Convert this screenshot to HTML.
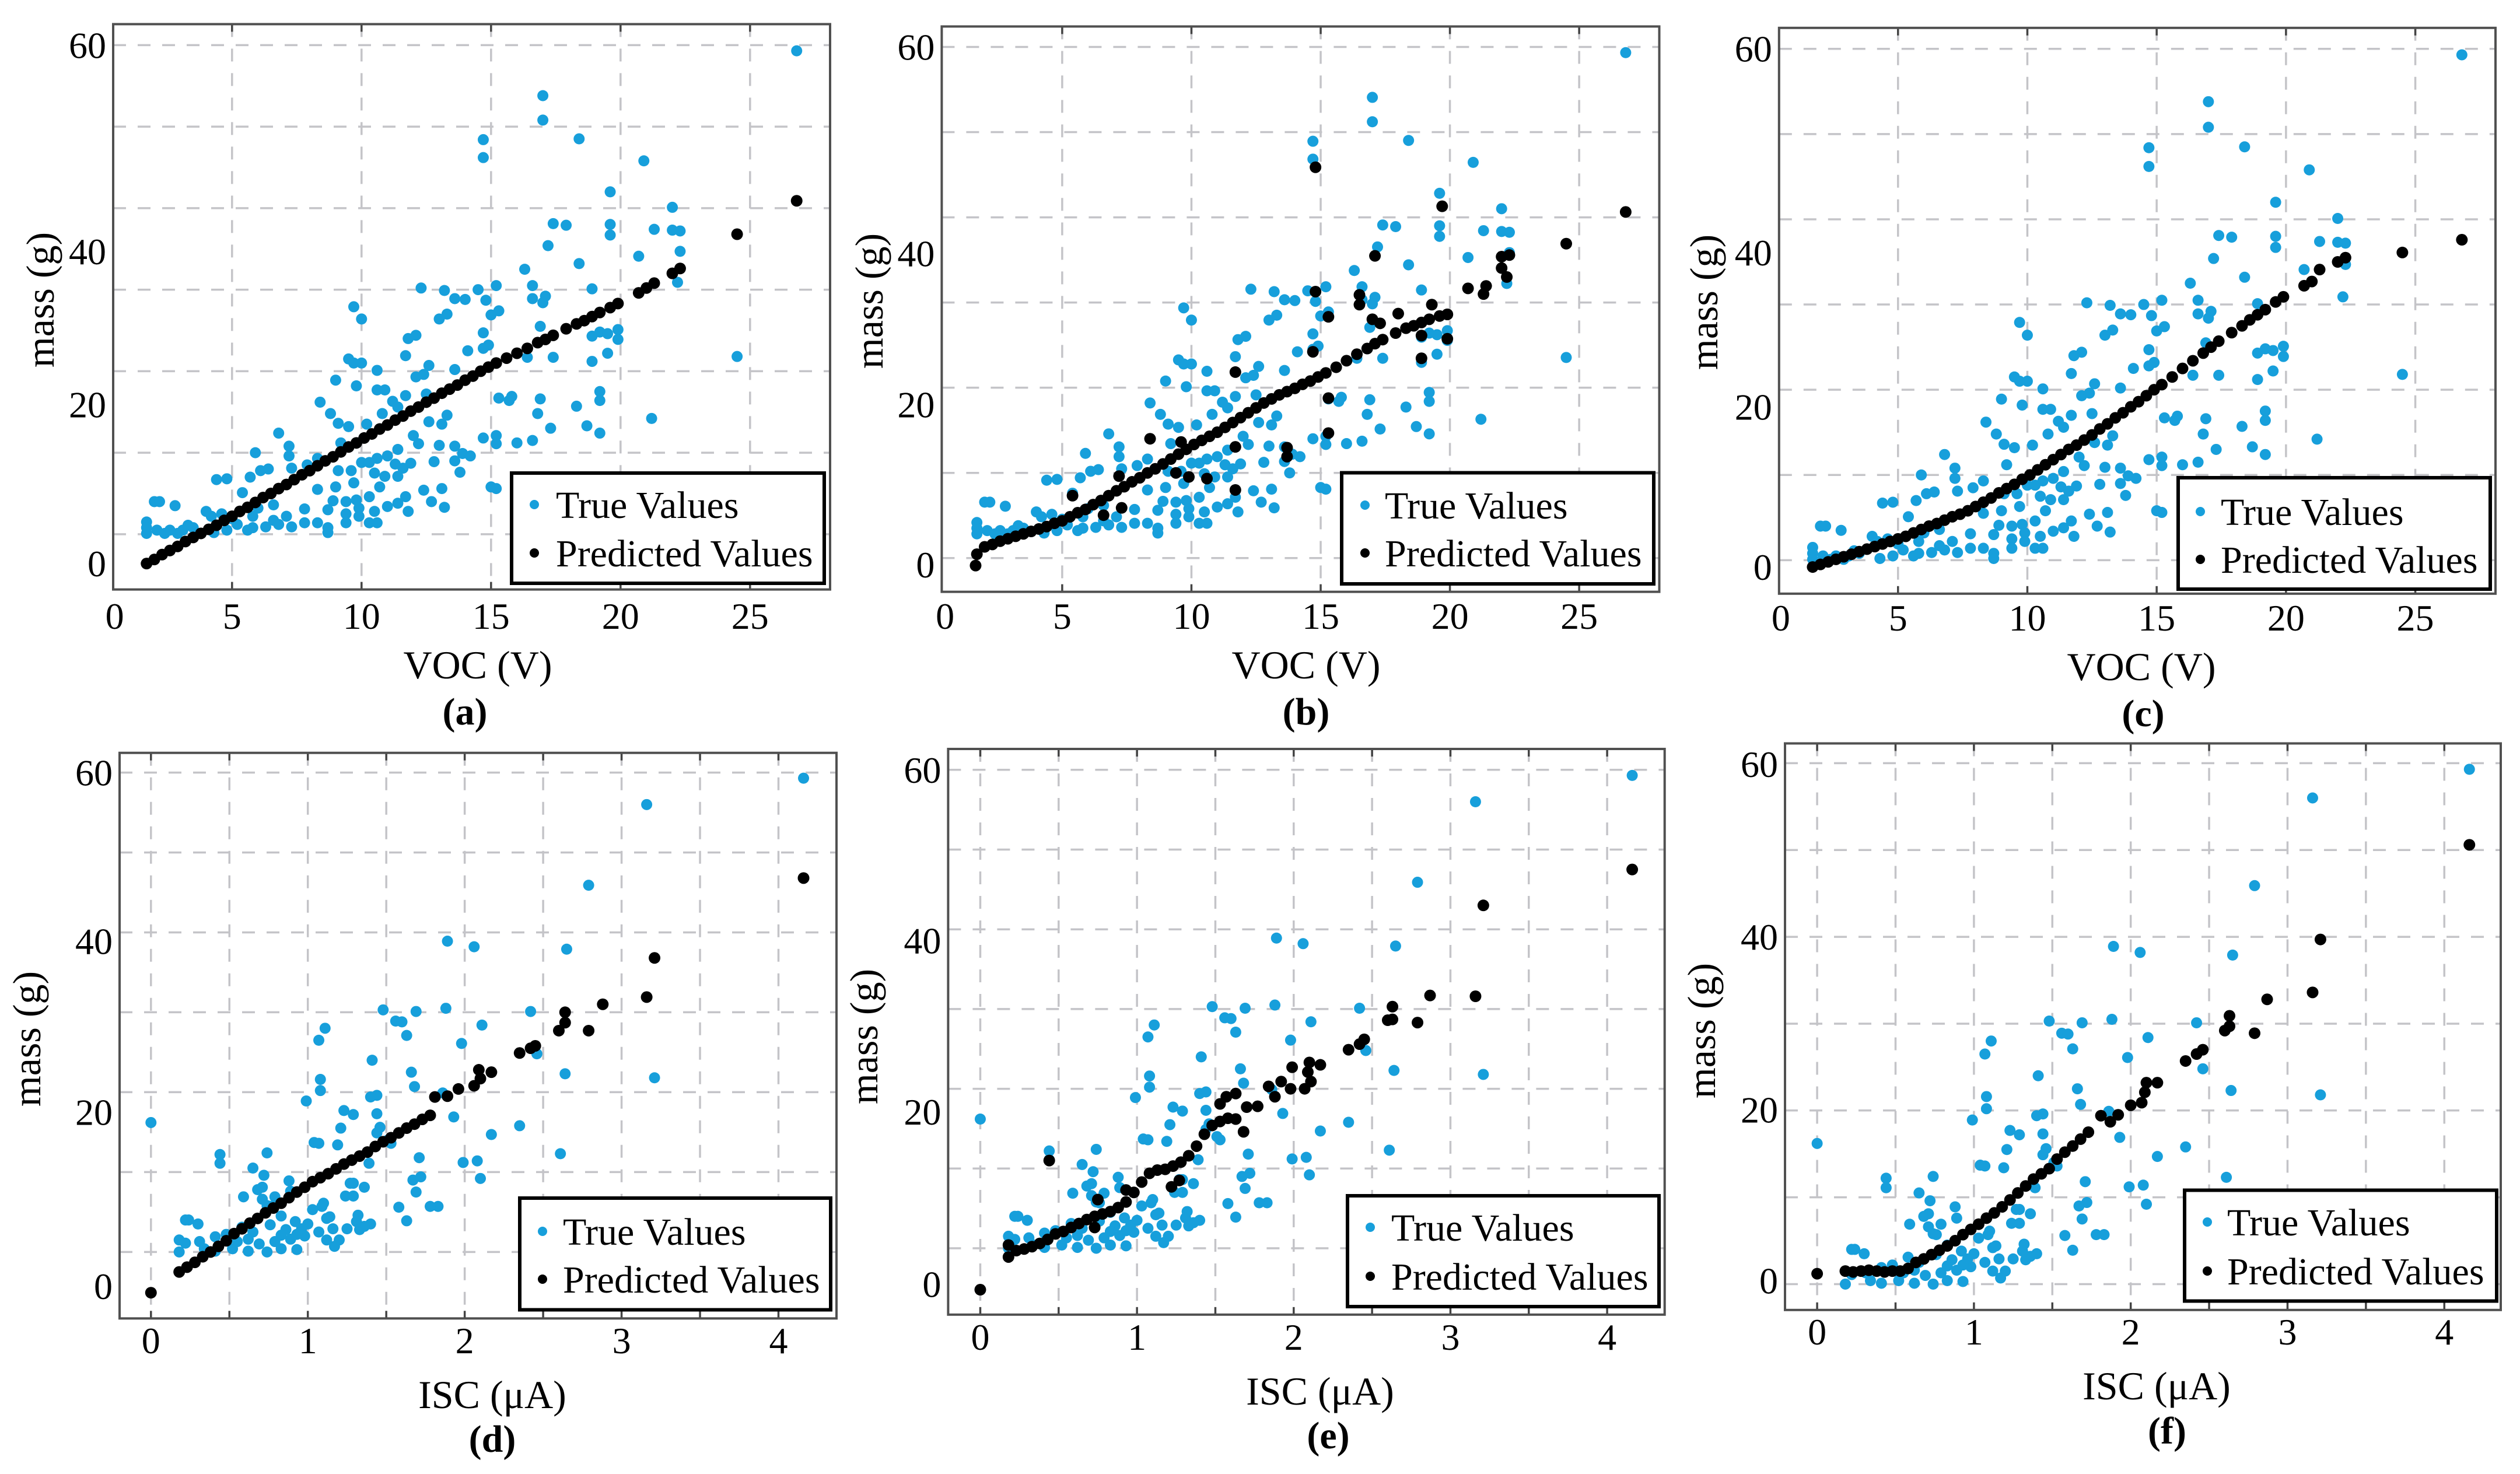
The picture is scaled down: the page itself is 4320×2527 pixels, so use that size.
<!DOCTYPE html>
<html><head><meta charset="utf-8">
<style>
html,body{margin:0;padding:0;background:#fff;}
svg{display:block;font-family:"Liberation Serif",serif;}
svg text{font-family:"Liberation Serif",serif;}
</style></head>
<body>
<svg id="fig" xmlns="http://www.w3.org/2000/svg" width="4320" height="2527" viewBox="0 0 4320 2527" font-family="Liberation Serif, serif"></svg>
<script>
// ---------- data: VOC row (panels a, b, c) ----------
const vocTrueX = [26.8,17.0,17.0,18.4,14.7,14.7,20.9,19.6,22.0,17.4,17.9,19.6,21.3,22.0,22.3,19.6,17.2,22.3,20.7,18.4,16.3,22.2,16.6,17.1,12.3,13.2,13.6,14.0,14.5,15.2,14.8,16.6,17.0,18.9,9.7,10.0,13.0,13.3,15.3,15.0,16.9,14.7,14.9,14.7,19.9,19.9,18.9,19.2,19.5,12.1,11.8,11.7,12.6,14.1,13.6,9.5,9.7,10.0,10.6,12.1,12.4,9.0,9.8,10.6,10.9,11.7,12.5,11.2,18.9,17.4,19.5,16.4,24.5,15.3,15.8,16.9,15.7,19.2,19.2,18.3,16.8,18.7,19.2,17.3,21.2,14.7,15.2,15.2,16.0,16.6,8.4,8.8,9.1,9.5,10.2,10.8,11.4,12.6,13.1,13.3,13.0,12.0,12.2,9.2,6.8,7.2,7.2,5.9,13.6,13.9,13.6,14.2,13.8,12.8,11.4,11.0,10.6,10.0,10.3,11.9,11.3,11.6,11.4,10.9,10.5,9.6,9.1,8.3,7.9,7.3,6.1,6.4,5.7,4.4,4.8,5.4,10.7,9.7,9.0,8.3,12.4,13.1,11.7,10.3,9.8,9.4,8.9,8.7,12.7,11.4,11.0,11.8,13.2,10.5,9.9,9.4,9.9,10.3,10.6,9.4,8.3,8.7,8.7,7.8,7.3,15.0,15.2,7.8,7.1,6.8,6.6,6.3,5.8,5.6,5.2,4.8,6.6,6.0,5.8,2.0,2.2,2.8,1.7,1.7,1.7,2.1,2.6,3.1,3.5,4.0,4.2,4.6,5.0,3.3,2.9,4.3,2.4];
const vocTrueY = [59.3,53.8,50.8,48.5,48.4,46.2,45.8,42.0,40.1,38.1,37.9,38.0,37.4,37.3,37.2,36.7,35.4,34.7,34.1,33.2,32.5,30.9,30.5,29.2,30.2,29.9,28.9,28.8,30.0,30.5,28.7,28.9,28.4,30.1,27.9,26.4,26.4,27.0,27.4,26.9,25.5,24.7,23.2,22.8,25.1,23.9,24.3,24.8,24.6,24.4,24.0,21.9,20.7,22.5,20.2,21.5,21.0,21.0,20.1,19.3,19.6,18.9,18.2,17.7,17.7,17.0,17.2,16.3,21.2,21.7,22.2,21.7,21.8,16.7,16.9,16.6,16.4,17.5,16.4,15.7,14.8,13.3,12.4,13.0,14.2,11.8,12.1,11.1,11.2,11.5,16.2,14.8,13.6,13.2,13.5,14.8,15.6,13.8,13.5,14.6,10.9,12.1,11.1,11.2,12.4,10.8,9.6,10.0,10.8,9.9,9.0,9.6,7.6,8.9,10.4,9.6,9.3,8.8,8.8,8.7,8.6,8.1,7.1,7.1,7.5,7.8,7.8,9.3,8.5,8.1,7.8,8.0,7.0,6.7,6.8,5.1,5.8,6.3,5.8,5.5,5.4,5.6,4.6,4.6,4.2,4.0,4.1,3.0,4.0,3.8,3.4,2.8,3.3,2.8,3.2,2.5,2.2,1.4,1.4,1.4,1.4,0.8,0.2,1.4,0.9,5.8,5.6,3.1,2.2,1.2,1.7,0.9,0.8,0.5,1.2,0.5,3.6,3.2,2.2,4.0,4.0,3.5,1.5,0.8,0.1,0.5,0.5,0.5,0.8,2.8,2.2,2.5,1.9,1.1,0.1,0.2,0.1];

const predAX = [1.7,2.0,2.3,2.6,2.9,3.2,3.5,3.8,4.1,4.4,4.7,5.0,5.3,5.6,5.9,6.2,6.5,6.8,7.1,7.4,7.7,8.0,8.3,8.6,8.9,9.2,9.5,9.8,10.1,10.4,10.7,11.0,11.3,11.6,11.9,12.2,12.5,12.8,13.1,13.4,13.7,14.0,14.3,14.6,14.9,15.2,15.6,16.0,16.4,16.8,17.1,17.4,17.9,18.3,18.6,18.9,19.2,19.6,19.9,20.7,21.0,21.3,22.0,22.3,24.5,26.8];
const predAY = [-3.6,-3.1,-2.5,-2.0,-1.5,-0.9,-0.4,0.1,0.6,1.1,1.7,2.2,2.8,3.3,3.9,4.5,5.0,5.6,6.1,6.7,7.3,7.8,8.4,9.0,9.5,10.1,10.7,11.2,11.8,12.3,12.9,13.4,14.0,14.5,15.1,15.6,16.2,16.7,17.3,17.8,18.3,18.9,19.4,20.0,20.5,21.0,21.6,22.2,22.8,23.5,23.9,24.4,25.2,25.8,26.2,26.7,27.2,27.8,28.3,29.6,30.2,30.8,32.0,32.6,36.8,40.9];

const predBX = [1.7,2.0,2.3,2.6,2.9,3.2,3.5,3.8,4.1,4.4,4.7,5.0,5.3,5.6,5.9,6.2,6.5,6.8,7.1,7.4,7.7,8.0,8.3,8.6,8.9,9.2,9.5,9.8,10.1,10.4,10.7,11.0,11.3,11.6,11.9,12.2,12.5,12.8,13.1,13.4,13.7,14.0,14.3,14.6,14.9,15.2,15.6,16.0,16.4,16.8,17.1,17.4,17.9,18.3,18.6,18.9,19.2,19.6,19.9,1.65,14.8,19.7,17.1,14.8,16.5,16.5,15.3,11.7,8.4,9.6,13.7,13.7,11.7,15.3,15.3,11.7,10.6,9.9,9.4,6.6,5.4,7.3,7.2,14.7,18.9,18.9,19.9,19.9,21.3,22.0,22.2,22.0,22.3,20.7,21.4,24.5,26.8,17.0,17.3,18.0,19.3];
const predBY = [-2.4,-1.5,-1.2,-0.8,-0.5,-0.2,0.1,0.4,0.7,1.0,1.4,1.7,2.2,2.7,3.1,3.7,4.2,4.8,5.4,5.9,6.5,7.0,7.6,8.1,8.7,9.3,9.9,10.5,11.1,11.6,12.1,12.6,13.2,13.8,14.4,15.0,15.6,16.2,16.7,17.2,17.6,18.0,18.5,18.9,19.4,19.9,20.6,21.4,22.2,22.9,23.5,24.0,24.8,25.4,25.7,26.1,26.5,26.9,27.1,-3.8,45.2,40.4,34.3,29.9,29.5,28.3,26.8,20.0,11.8,11.4,10.7,9.6,10.8,12.5,16.8,5.5,6.9,7.1,7.6,2.4,4.8,3.3,7.2,22.5,24.5,21.7,27.1,24.1,29.6,32.8,31.7,34.2,34.4,30.3,30.6,35.8,39.7,26.5,26.0,27.2,28.3];

const predCX = [1.7,2.0,2.3,2.6,2.9,3.2,3.5,3.8,4.1,4.4,4.7,5.0,5.3,5.6,5.9,6.2,6.5,6.8,7.1,7.4,7.7,8.0,8.3,8.6,8.9,9.2,9.5,9.8,10.1,10.4,10.7,11.0,11.3,11.6,11.9,12.2,12.5,12.8,13.1,13.4,13.7,14.0,14.3,14.6,14.9,15.2,15.6,16.0,16.4,16.8,17.1,17.4,17.9,18.3,18.6,18.9,19.2,19.6,19.9,20.7,21.0,21.3,22.0,22.3,24.5,26.8];
const predCY = [-0.8,-0.5,-0.2,0.1,0.4,0.7,1.0,1.3,1.6,1.9,2.2,2.5,2.8,3.2,3.6,4.0,4.3,4.7,5.1,5.4,5.8,6.3,6.8,7.3,7.9,8.4,8.9,9.5,10.0,10.6,11.2,11.8,12.4,13.0,13.5,14.1,14.7,15.4,16.0,16.7,17.3,18.0,18.6,19.3,20.0,20.6,21.5,22.5,23.4,24.3,25.0,25.7,26.7,27.5,28.2,28.8,29.4,30.3,30.9,32.2,32.7,34.1,35.0,35.5,36.1,37.6];

// ---------- data: ISC row (panels d, e, f) ----------
const iscTrueX = [4.16,3.16,2.79,1.89,2.06,2.65,1.48,1.69,1.88,2.42,1.56,1.60,1.11,2.11,1.07,1.63,1.98,1.41,2.46,1.66,1.08,2.64,3.21,1.68,1.08,1.44,1.40,0.99,1.23,1.29,1.44,1.86,1.93,0.00,1.21,1.46,2.35,2.17,1.04,1.07,1.19,1.53,1.71,0.74,0.44,0.44,2.61,1.99,2.08,1.39,0.65,0.72,1.72,2.10,1.67,0.88,1.27,1.29,1.36,0.68,0.71,0.89,1.69,0.59,1.24,1.29,0.79,0.74,1.10,1.09,1.58,1.83,1.78,1.03,1.14,1.12,1.32,1.63,0.92,0.22,0.24,0.30,1.00,1.31,1.40,1.36,1.16,1.25,1.33,0.86,0.96,1.07,0.83,0.98,0.89,1.12,1.17,1.20,0.74,0.93,0.18,0.22,0.18,0.31,0.41,0.48,0.55,0.62,0.69,0.79,0.65,0.58,0.76,0.83,0.52,0.62,0.34,0.41,0.83,0.93,0.76,0.71,1.44,1.51];
const iscTrueY = [59.3,56.0,45.9,38.9,38.2,37.9,30.3,30.1,30.5,30.1,28.9,28.8,28.0,28.4,26.5,27.1,26.1,24.0,24.8,22.5,21.6,22.3,21.8,20.7,20.2,19.6,19.4,18.9,17.7,17.2,17.3,19.9,16.9,16.2,15.5,15.6,15.8,14.7,13.7,13.6,13.4,13.6,11.8,12.4,12.2,11.1,12.3,11.2,11.4,11.1,10.5,9.6,9.4,9.2,9.0,8.9,8.6,8.6,8.1,7.8,8.1,7.6,7.5,6.9,7.0,7.0,6.9,5.8,6.1,5.7,5.6,5.7,5.7,5.3,4.4,4.2,4.6,3.9,3.8,4.0,4.0,3.5,3.5,3.8,3.5,3.2,2.9,2.9,2.8,2.8,2.9,2.5,2.1,2.0,1.6,1.5,0.7,1.5,0.0,0.3,1.5,1.1,0.0,1.3,1.9,2.2,1.3,1.6,1.0,1.3,2.5,3.1,3.4,4.5,0.4,0.1,0.4,0.1,0.4,2.2,5.7,6.6,14.9,14.0];

const predDX = [0.00,0.18,0.23,0.28,0.33,0.38,0.43,0.48,0.53,0.58,0.63,0.68,0.73,0.78,0.83,0.88,0.93,0.98,1.03,1.08,1.13,1.18,1.23,1.28,1.33,1.38,1.43,1.48,1.53,1.58,1.63,1.68,1.73,1.78,1.81,1.89,1.96,2.09,2.10,2.06,2.17,2.35,2.42,2.45,2.60,2.64,2.64,2.79,2.88,3.16,3.21,4.16];
const predDY = [-5.1,-2.5,-1.9,-1.3,-0.6,0.0,0.7,1.4,2.3,2.9,3.6,4.2,4.9,5.5,6.1,6.8,7.5,8.1,8.8,9.3,9.8,10.4,11.0,11.5,12.0,12.5,13.2,13.8,14.3,14.9,15.5,16.0,16.6,17.1,19.4,19.5,20.4,22.8,21.7,20.8,22.5,24.9,25.5,25.8,27.7,28.7,30.0,27.7,31.0,31.9,36.8,46.8];

const predEX = [0.00,0.44,0.18,0.18,0.23,0.28,0.33,0.38,0.43,0.48,0.53,0.58,0.63,0.68,0.73,0.78,0.83,0.88,0.93,0.98,1.03,1.08,1.13,1.18,1.23,1.28,1.33,1.38,1.43,1.48,1.53,1.58,1.63,1.68,1.53,1.57,1.63,1.70,1.77,1.84,1.88,1.92,1.99,1.98,2.07,2.09,2.10,2.11,2.17,2.35,2.42,2.45,2.60,2.63,2.63,2.79,2.87,3.16,3.21,4.16,0.73,0.75,0.93,1.27,1.22];
const predEY = [-5.2,11.0,-1.1,0.4,-0.3,-0.1,0.2,0.6,1.1,1.8,2.1,2.6,3.1,3.6,4.0,4.3,4.6,5.1,5.8,7.0,8.3,9.4,9.8,9.9,10.3,10.8,11.6,12.8,14.3,15.4,15.9,16.3,16.2,14.6,18.1,19.0,19.4,17.7,17.8,20.3,19.0,20.9,22.7,20.0,20.0,22.1,23.3,20.9,23.0,24.9,25.6,26.2,28.6,28.7,30.3,28.3,31.7,31.6,43.0,47.5,2.6,6.1,7.3,8.5,7.7];

const predFX = [0.00,0.18,0.23,0.28,0.33,0.38,0.43,0.48,0.53,0.58,0.63,0.68,0.73,0.78,0.83,0.88,0.93,0.98,1.03,1.08,1.13,1.18,1.23,1.28,1.33,1.38,1.43,1.48,1.53,1.58,1.63,1.68,1.73,1.81,1.87,1.92,2.00,2.07,2.09,2.10,2.17,2.35,2.42,2.46,2.60,2.63,2.63,2.79,2.87,3.16,3.21,4.16];
const predFY = [1.2,1.5,1.4,1.5,1.6,1.5,1.4,1.5,1.5,1.8,2.5,2.9,3.4,3.9,4.4,5.0,5.7,6.3,6.9,7.6,8.2,8.9,9.7,10.5,11.3,12.1,12.7,13.3,14.4,15.2,15.9,16.7,17.5,19.4,18.7,19.5,20.6,20.9,22.1,23.2,23.2,25.7,26.5,27.0,29.2,30.9,29.7,28.9,32.8,33.6,39.7,50.6];

// ---------- tick labels ----------
const vocTickLabels = ['0','5','10','15','20','25'];
const vocTickVals = [0.47,5,10,15,20,25];
const iscTickLabels = ['0','1','2','3','4'];
const iscTickVals = [0,1,2,3,4];
const massTickLabels = ['60','40','20','0'];
const massTickValsA = [60,34.7,15.9,-3.6];
const massTickValsB = [60,34.6,16.0,-3.7];
const massTickValsC = [60,36.1,18.0,-0.8];
const massTickValsD = [60,38.9,17.5,-4.3];
const massTickValsE = [60,38.6,17.1,-4.5];
const massTickValsF = [59.9,40.0,20.1,0.4];

const NS = 'http://www.w3.org/2000/svg';
const FONT = '"Liberation Serif", serif';
const svg = document.getElementById('fig');
function mk(tag, attrs, parent){
  const e = document.createElementNS(NS, tag);
  for (const k in attrs) e.setAttribute(k, attrs[k]);
  if (tag === 'text') e.style.fontFamily = FONT;
  (parent || svg).appendChild(e);
  return e;
}

const panels = [
 {id:'a', L:194, R:1423, T:41.4, B:1010.6, xd:[0.41,28.09], yd:[-6.78,62.57], xGrid:[5,10,15,20,25], yStep:10,
  tx:vocTrueX, ty:vocTrueY, px:predAX, py:predAY, xt:vocTickVals, xl:vocTickLabels, yt:massTickValsA,
  xTitle:'VOC (V)', tcx:819, tickBase:1078, titleBase:1163, lblX:797, lblBase:1242, ytx:69, yty:514,
  leg:{x:877,y:811,w:536,h:189,r1:865,r2:948,mx:916,tx:953}},
 {id:'b', L:1614.4, R:2844.5, T:45.4, B:1014.6, xd:[0.34,28.1], yd:[-7.03,62.52], xGrid:[5,10,15,20,25], yStep:10.48,
  tx:vocTrueX, ty:vocTrueY, px:predBX, py:predBY, xt:vocTickVals, xl:vocTickLabels, yt:massTickValsB,
  xTitle:'VOC (V)', tcx:2239, tickBase:1078, titleBase:1163, lblX:2239, lblBase:1242, ytx:1490, yty:516,
  leg:{x:2300,y:810.5,w:535,h:190.5,r1:866,r2:948,mx:2340,tx:2374}},
 {id:'c', L:3049.8, R:4278, T:47.8, B:1017.8, xd:[0.40,28.1], yd:[-3.93,62.46], xGrid:[5,10,15,20,25], yStep:10,
  tx:vocTrueX, ty:vocTrueY, px:predCX, py:predCY, xt:vocTickVals, xl:vocTickLabels, yt:massTickValsC,
  xTitle:'VOC (V)', tcx:3671, tickBase:1081, titleBase:1166, lblX:3674, lblBase:1245, ytx:2921, yty:518,
  leg:{x:3734,y:819,w:535,h:191,r1:877,r2:959,mx:3772,tx:3807}},
 {id:'d', L:205, R:1434, T:1290.7, B:2260.3, xd:[-0.20,4.37], yd:[-8.32,62.47], xGrid:[0,0.5,1,1.5,2,2.5,3,3.5,4], yStep:10,
  tx:iscTrueX, ty:iscTrueY, px:predDX, py:predDY, xt:iscTickVals, xl:iscTickLabels, yt:massTickValsD,
  xTitle:'ISC (\u03bcA)', tcx:844, tickBase:2320, titleBase:2414, lblX:844, lblBase:2489, ytx:46, yty:1781,
  leg:{x:891,y:2054,w:533,h:191.5,r1:2111,r2:2193,mx:930,tx:965}},
 {id:'e', L:1625.4, R:2853.7, T:1284, B:2253.8, xd:[-0.205,4.367], yd:[-8.33,62.62], xGrid:[0,0.5,1,1.5,2,2.5,3,3.5,4], yStep:10,
  tx:iscTrueX, ty:iscTrueY, px:predEX, py:predEY, xt:iscTickVals, xl:iscTickLabels, yt:massTickValsE,
  xTitle:'ISC (\u03bcA)', tcx:2263, tickBase:2314, titleBase:2408, lblX:2277, lblBase:2483, ytx:1481, yty:1777,
  leg:{x:2310,y:2050,w:534,h:190,r1:2104,r2:2188,mx:2349,tx:2385}},
 {id:'f', L:3060, R:4287, T:1274.5, B:2245.8, xd:[-0.205,4.36], yd:[-2.98,62.28], xGrid:[0,0.5,1,1.5,2,2.5,3,3.5,4], yStep:10,
  tx:iscTrueX, ty:iscTrueY, px:predFX, py:predFY, xt:iscTickVals, xl:iscTickLabels, yt:massTickValsF,
  xTitle:'ISC (\u03bcA)', tcx:3697, tickBase:2305, titleBase:2399, lblX:3715, lblBase:2475, ytx:2917, yty:1767,
  leg:{x:3745,y:2040.5,w:535,h:190,r1:2095,r2:2179,mx:3784,tx:3818}}
];

panels.forEach(p => {
  const g = mk('g', {});
  
  
  const xs = v => p.L + (v - p.xd[0]) / (p.xd[1] - p.xd[0]) * (p.R - p.L);
  const ys = v => p.B - (v - p.yd[0]) / (p.yd[1] - p.yd[0]) * (p.B - p.T);

  p.xGrid.forEach(v => {
    const l = mk('line', {x1:xs(v), x2:xs(v), y1:p.T, y2:p.B, stroke:'#c4c4c8', 'stroke-width':3.5, 'stroke-dasharray':'22 20'}, g);
    
    
    const t1 = mk('line', {x1:xs(v), x2:xs(v), y1:p.B, y2:p.B-13, stroke:'#444', 'stroke-width':3.5}, g);
    
    
    const t2 = mk('line', {x1:xs(v), x2:xs(v), y1:p.T, y2:p.T+13, stroke:'#444', 'stroke-width':3.5}, g);
    
    
  });
  for (let v = 60; v >= p.yd[0]; v -= p.yStep) {
    const l = mk('line', {x1:p.L, x2:p.R, y1:ys(v), y2:ys(v), stroke:'#c4c4c8', 'stroke-width':3.5, 'stroke-dasharray':'22 20'}, g);
    
    
  }

  for (let i = 0; i < p.tx.length; i++) {
    const c = mk('circle', {cx:xs(p.tx[i]), cy:ys(p.ty[i]), r:9.5, fill:'#179fdb'}, g);
    
    
  }
  for (let i = 0; i < p.px.length; i++) {
    const c = mk('circle', {cx:xs(p.px[i]), cy:ys(p.py[i]), r:10, fill:'#000'}, g);
    
    
  }

  const fr = mk('rect', {x:p.L, y:p.T, width:p.R-p.L, height:p.B-p.T, fill:'none', stroke:'#505050', 'stroke-width':4}, g);
  
  

  p.xt.forEach((v, i) => {
    const t = mk('text', {x:xs(v), y:p.tickBase, 'font-size':64, 'text-anchor':'middle', fill:'#000'}, g);
    t.textContent = p.xl[i];
    
    
  });
  p.yt.forEach((v, i) => {
    const t = mk('text', {x:p.L-12, y:ys(v)+22, 'font-size':64, 'text-anchor':'end', fill:'#000'}, g);
    t.textContent = massTickLabels[i];
    
    
  });
  const xt = mk('text', {x:p.tcx, y:p.titleBase, 'font-size':68, 'text-anchor':'middle', fill:'#000'}, g);
  xt.textContent = p.xTitle;
  
  
  const yt = mk('text', {x:0, y:0, 'font-size':68, 'text-anchor':'middle', fill:'#000', transform:'translate(' + (p.ytx + 23) + ',' + p.yty + ') rotate(-90)'}, g);
  yt.textContent = 'mass (g)';
  
  
  const pl = mk('text', {x:p.lblX, y:p.lblBase, 'font-size':66, 'font-weight':'bold', 'text-anchor':'middle', fill:'#000'}, g);
  pl.textContent = '(' + p.id + ')';
  
  

  const lg = mk('g', {}, g);
  
  
  const L = p.leg;
  const lr = mk('rect', {x:L.x, y:L.y, width:L.w, height:L.h, fill:'#fff', stroke:'#000', 'stroke-width':6}, lg);
  
  
  const m1 = mk('circle', {cx:L.mx, cy:L.r1, r:8, fill:'#179fdb'}, lg);
  
  
  const t1 = mk('text', {x:L.tx, y:L.r1+23, 'font-size':66, fill:'#000'}, lg);
  t1.textContent = 'True Values';
  
  
  const m2 = mk('circle', {cx:L.mx, cy:L.r2, r:8, fill:'#000'}, lg);
  
  
  const t2 = mk('text', {x:L.tx, y:L.r2+23, 'font-size':66, fill:'#000'}, lg);
  t2.textContent = 'Predicted Values';
  
  
});
</script>
</body></html>
